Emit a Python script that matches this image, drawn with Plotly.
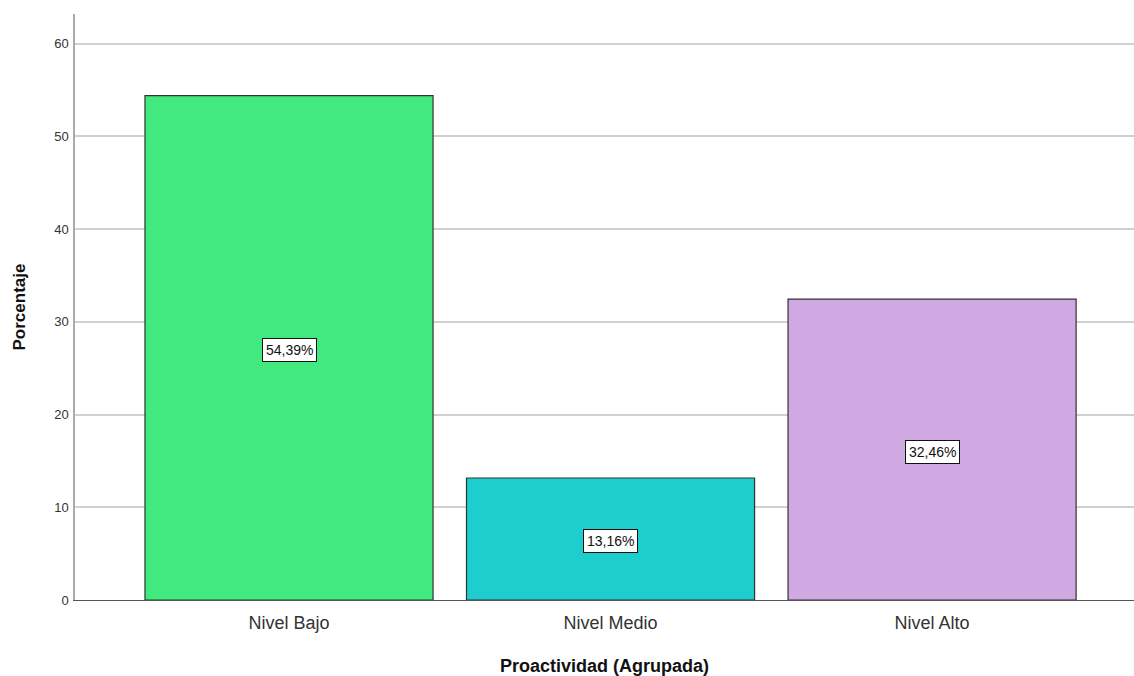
import plotly.graph_objects as go

categories = ["Nivel Bajo", "Nivel Medio", "Nivel Alto"]
percentages = [54.39, 13.16, 32.46]
bar_colors = ["#42E97E", "#1ECDCD", "#D0A8E2"]
y_ticks = [0, 10, 20, 30, 40, 50, 60]

fig = go.Figure()
fig.add_trace(go.Bar(
    x=categories, y=percentages, width=0.896,
    marker=dict(color=bar_colors, line=dict(color="#333333", width=1.2)),
    hoverinfo="skip",
))

for c, v in zip(categories, percentages):
    fig.add_annotation(
        x=c, y=v / 2, xref="x", yref="y",
        text=f"{v:.2f}%".replace(".", ","),
        showarrow=False, yshift=-2,
        font=dict(family="Arial, Liberation Sans", size=14, color="#111111"),
        bgcolor="white", bordercolor="#111111", borderwidth=1, borderpad=3,
    )

fig.update_layout(
    width=1134, height=676,
    margin=dict(l=75, r=0, t=14, b=76),
    paper_bgcolor="white", plot_bgcolor="white",
    showlegend=False,
    font=dict(family="Arial, Liberation Sans"),
    xaxis=dict(
        type="category", range=[-0.6656, 2.628],
        showgrid=False, showline=True, linecolor="#555555", linewidth=1,
        ticks="", ticklabelstandoff=6, tickfont=dict(size=18, color="#333333"),
        title=dict(text="<b>Proactividad (Agrupada)</b>", font=dict(size=18, color="#111111"), standoff=28),
    ),
    yaxis=dict(
        range=[0, 63.2], tickvals=y_ticks,
        showgrid=True, gridcolor="#D0D0D0", gridwidth=1.5,
        showline=True, linecolor="#AAAAAA", linewidth=1.5,
        ticks="", zeroline=False, ticklabelstandoff=2,
        tickfont=dict(size=13, color="#333333"),
        title=dict(text="<b>Porcentaje</b>", font=dict(size=17, color="#111111"), standoff=24),
    ),
)

fig.write_html("out.html")
